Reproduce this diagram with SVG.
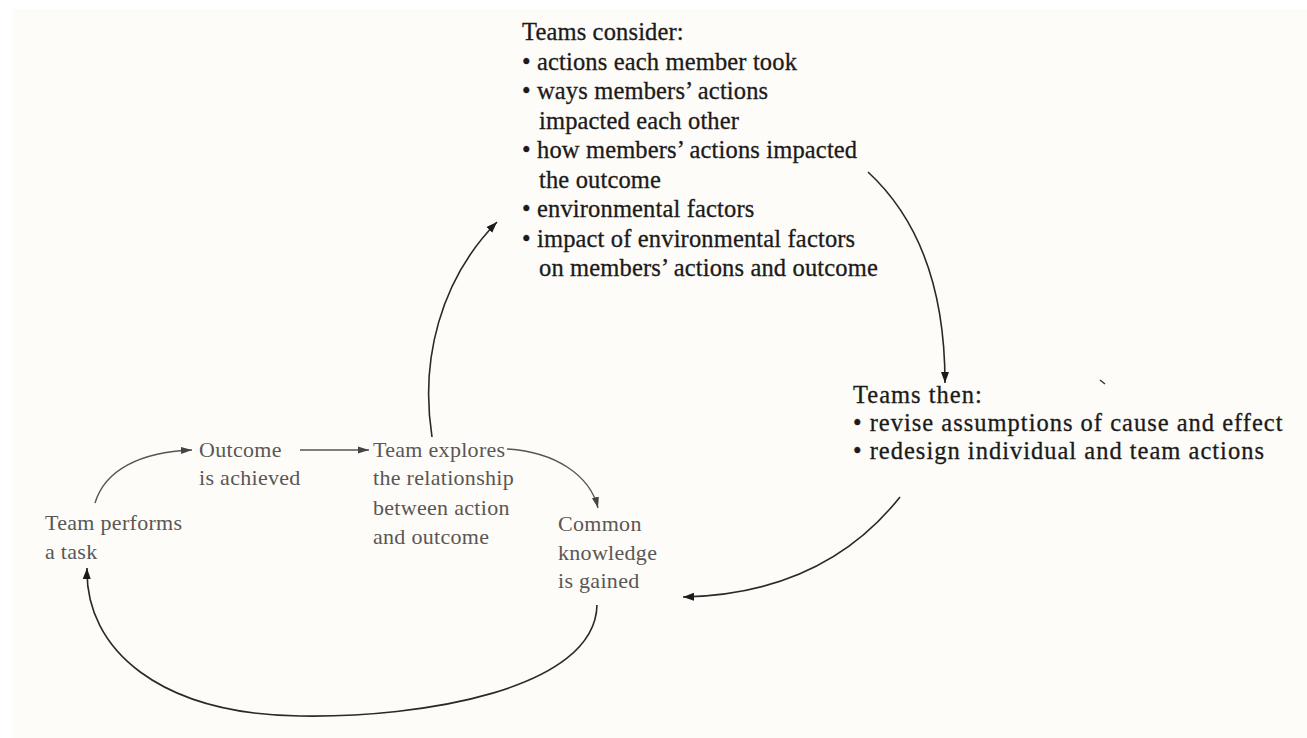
<svg xmlns="http://www.w3.org/2000/svg" width="1307" height="738" viewBox="0 0 1307 738">
<style>
.grey{font-family:"Liberation Serif","Times New Roman",serif;font-size:22px;fill:#5a5655;letter-spacing:0.3px}
.blk{font-family:"Liberation Serif","Times New Roman",serif;font-size:24.5px;fill:#1c1a1a;stroke:#1c1a1a;stroke-width:0.3px}
.top{letter-spacing:0.15px}
.rt{letter-spacing:1px}
.conn{fill:none;stroke:#2a2828;stroke-width:1.6}
.conng{fill:none;stroke:#555;stroke-width:1.4}
</style>
<defs>
<marker id="ah" markerUnits="userSpaceOnUse" markerWidth="12" markerHeight="10" refX="11" refY="5" orient="auto">
<path d="M0,1 L11,5 L0,9 Z" fill="#1c1a1a"/>
</marker>
<marker id="ahg" markerUnits="userSpaceOnUse" markerWidth="12" markerHeight="10" refX="11" refY="5" orient="auto">
<path d="M0,1.5 L11,5 L0,8.5 Z" fill="#444"/>
</marker>
</defs>
<rect x="0" y="0" width="1307" height="738" fill="#ffffff"/>
<rect x="12" y="9" width="1295" height="729" fill="#fdfcf8"/>

<g id="connectors">
<path class="conng" d="M95,503 C105,470 140,452 192,450" marker-end="url(#ahg)"/>
<path class="conng" d="M300,450 L369,450" marker-end="url(#ahg)"/>
<path class="conng" d="M507,449 C555,452 590,475 598,508" marker-end="url(#ahg)"/>
<path class="conn" d="M432,437 C420,360 440,280 497,222" marker-end="url(#ah)"/>
<path class="conn" d="M868,172 C920,220 945,290 945,383" marker-end="url(#ah)"/>
<path class="conn" d="M900,497 C850,560 780,595 683,597" marker-end="url(#ah)"/>
<path class="conn" d="M597,605 C595,690 420,718 300,716 C160,714 85,650 87,568" marker-end="url(#ah)"/>
<path d="M1100,380 L1105,384" stroke="#333" stroke-width="1.5"/>
</g>

<g id="team-performs">
<text class="grey" x="45" y="530">Team performs</text>
<text class="grey" x="45" y="559">a task</text>
</g>
<g id="outcome">
<text class="grey" x="199" y="457">Outcome</text>
<text class="grey" x="199" y="485">is achieved</text>
</g>
<g id="team-explores">
<text class="grey" x="373" y="457">Team explores</text>
<text class="grey" x="373" y="485">the relationship</text>
<text class="grey" x="373" y="515">between action</text>
<text class="grey" x="373" y="544">and outcome</text>
</g>
<g id="common-knowledge">
<text class="grey" x="558" y="531">Common</text>
<text class="grey" x="558" y="560">knowledge</text>
<text class="grey" x="558" y="588">is gained</text>
</g>
<g id="teams-consider">
<text class="blk top" x="522" y="40">Teams consider:</text>
<text class="blk top" x="522" y="69.5">• actions each member took</text>
<text class="blk top" x="522" y="99">• ways members’ actions</text>
<text class="blk top" x="539" y="128.5">impacted each other</text>
<text class="blk top" x="522" y="158">• how members’ actions impacted</text>
<text class="blk top" x="539" y="187.5">the outcome</text>
<text class="blk top" x="522" y="217">• environmental factors</text>
<text class="blk top" x="522" y="246.5">• impact of environmental factors</text>
<text class="blk top" x="539" y="276">on members’ actions and outcome</text>
</g>
<g id="teams-then">
<text class="blk rt" x="853" y="403">Teams then:</text>
<text class="blk rt" x="853" y="431">• revise assumptions of cause and effect</text>
<text class="blk rt" x="853" y="459">• redesign individual and team actions</text>
</g>
</svg>
